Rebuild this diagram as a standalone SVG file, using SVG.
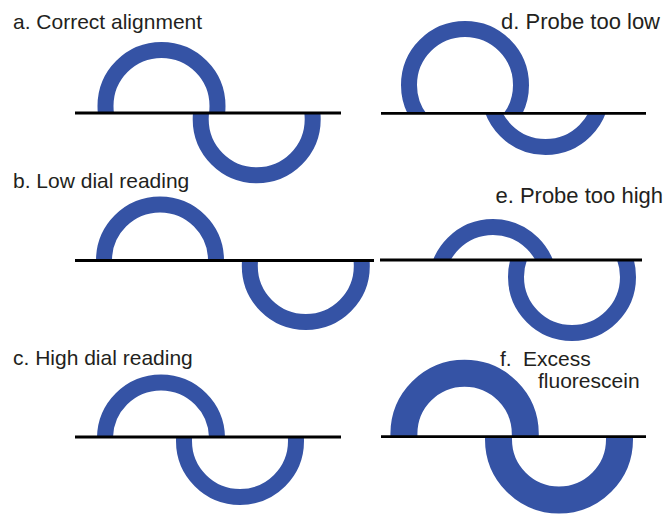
<svg xmlns="http://www.w3.org/2000/svg" width="670" height="514" viewBox="0 0 670 514">
  <style>
    .label { font-family: "Liberation Sans", Arial, sans-serif; font-size: 21px; fill: #231f20; }
    .label.r { font-size: 22px; text-anchor: end; }
    .ring { fill: none; stroke: #3553a5; stroke-width: 16; }
    .ring.thick { stroke-width: 27; }
    .base { stroke: #000; stroke-width: 2.8; }
  </style>
  <defs>
    <!-- half-planes above / below each panel's reference line -->
    <clipPath id="a-up"><rect x="0" y="0" width="400" height="113"/></clipPath>
    <clipPath id="a-dn"><rect x="0" y="113" width="400" height="100"/></clipPath>
    <clipPath id="b-up"><rect x="0" y="150" width="400" height="110.5"/></clipPath>
    <clipPath id="b-dn"><rect x="0" y="260.5" width="400" height="100"/></clipPath>
    <clipPath id="c-up"><rect x="0" y="340" width="400" height="97"/></clipPath>
    <clipPath id="c-dn"><rect x="0" y="437" width="400" height="100"/></clipPath>
    <clipPath id="d-up"><rect x="370" y="0" width="300" height="113.3"/></clipPath>
    <clipPath id="d-dn"><rect x="370" y="113.3" width="300" height="100"/></clipPath>
    <clipPath id="e-up"><rect x="370" y="150" width="300" height="110"/></clipPath>
    <clipPath id="e-dn"><rect x="370" y="260" width="300" height="100"/></clipPath>
    <clipPath id="f-up"><rect x="370" y="340" width="300" height="96.7"/></clipPath>
    <clipPath id="f-dn"><rect x="370" y="436.7" width="300" height="100"/></clipPath>
  </defs>

  <!-- a. Correct alignment -->
  <g id="panel-a">
    <circle class="ring" cx="161.5" cy="106" r="56" clip-path="url(#a-up)"/>
    <circle class="ring" cx="256.7" cy="119.3" r="56" clip-path="url(#a-dn)"/>
    <line class="base" x1="75" y1="113" x2="341" y2="113"/>
    <text class="label" x="13" y="29">a. Correct alignment</text>
  </g>

  <!-- b. Low dial reading -->
  <g id="panel-b">
    <circle class="ring" cx="160" cy="260.5" r="56" clip-path="url(#b-up)"/>
    <circle class="ring" cx="305.8" cy="266" r="56" clip-path="url(#b-dn)"/>
    <line class="base" x1="75" y1="260.5" x2="374" y2="260.5"/>
    <text class="label" x="13" y="188">b. Low dial reading</text>
  </g>

  <!-- c. High dial reading -->
  <g id="panel-c">
    <circle class="ring" cx="161" cy="438.5" r="56" clip-path="url(#c-up)"/>
    <circle class="ring" cx="240" cy="441" r="56" clip-path="url(#c-dn)"/>
    <line class="base" x1="75" y1="437" x2="341" y2="437"/>
    <text class="label" x="13" y="365">c. High dial reading</text>
  </g>

  <!-- d. Probe too low -->
  <g id="panel-d">
    <circle class="ring" cx="465" cy="85" r="56" clip-path="url(#d-up)"/>
    <circle class="ring" cx="545.5" cy="91" r="56" clip-path="url(#d-dn)"/>
    <line class="base" x1="381" y1="113.3" x2="646" y2="113.3"/>
    <text class="label r" x="660" y="29">d. Probe too low</text>
  </g>

  <!-- e. Probe too high -->
  <g id="panel-e">
    <circle class="ring" cx="493" cy="283" r="56" clip-path="url(#e-up)"/>
    <circle class="ring" cx="572" cy="277" r="56" clip-path="url(#e-dn)"/>
    <line class="base" x1="380" y1="260" x2="642" y2="260"/>
    <text class="label r" x="663" y="203">e. Probe too high</text>
  </g>

  <!-- f. Excess fluorescein -->
  <g id="panel-f">
    <circle class="ring thick" cx="464.6" cy="434" r="60.7" clip-path="url(#f-up)"/>
    <circle class="ring thick" cx="559" cy="439.5" r="60.5" clip-path="url(#f-dn)"/>
    <line class="base" x1="381" y1="436.7" x2="646" y2="436.7"/>
    <text class="label" x="500" y="366">f.<tspan x="523">Excess</tspan></text>
    <text class="label" x="538" y="388">fluorescein</text>
  </g>
</svg>
